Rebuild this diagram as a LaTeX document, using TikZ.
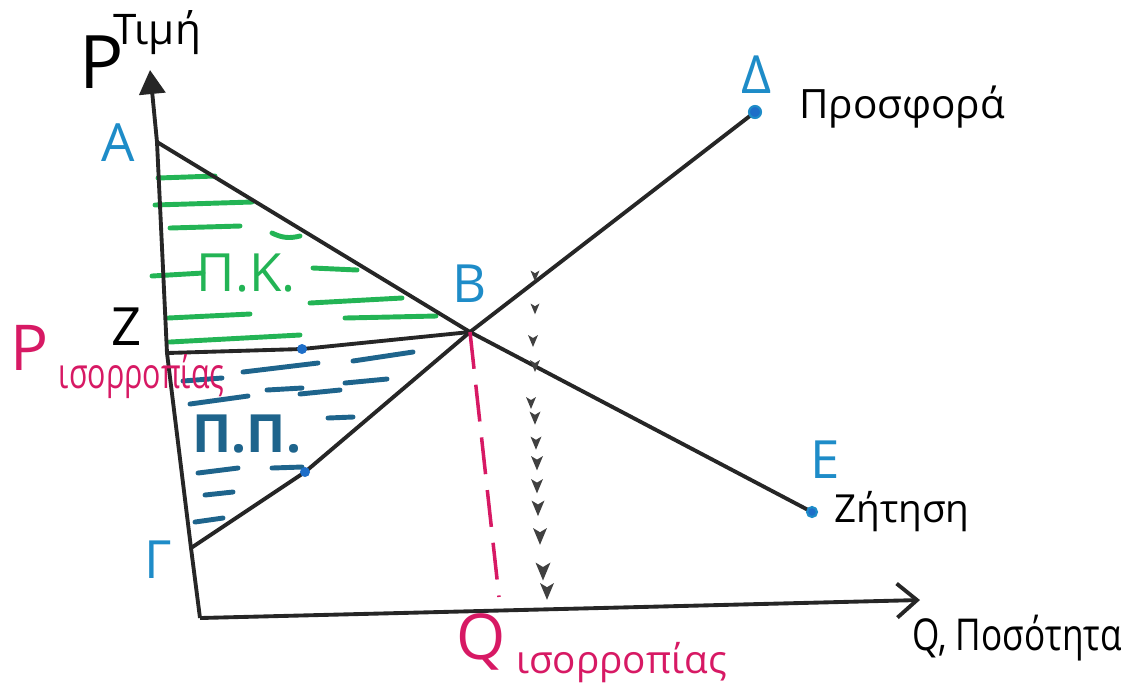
\documentclass[tikz,border=0pt]{standalone}
\usepackage{fontspec}
\usepackage{graphicx}
\setmainfont{Open Sans}
\usetikzlibrary{arrows.meta,positioning,calc}

\definecolor{labelblue}{RGB}{30,140,200}
\definecolor{eqpink}{RGB}{215,25,100}
\definecolor{csgreen}{RGB}{35,180,85}
\definecolor{psteal}{RGB}{30,100,140}
\definecolor{dotblue}{RGB}{30,110,200}

\begin{document}
\begin{tikzpicture}[
  x=0.1mm, y=-0.1mm,
  curveline/.style={line width=1.1pt, black!85},
  axisline/.style={line width=1.1pt, black!85},
  ptlabel/.style={text=labelblue, font=\fontsize{15}{15}\selectfont, inner sep=1pt},
  curvelabel/.style={font=\fontsize{11.5}{11.5}\selectfont, inner sep=1pt},
  eqlabel/.style={text=eqpink, inner sep=1pt},
  areak/.style={text=csgreen, font=\fontsize{15}{15}\selectfont, inner sep=1pt},
  areap/.style={text=psteal, font=\bfseries\fontsize{15}{15}\selectfont, inner sep=1pt},
  hatchk/.style={line width=1.4pt, csgreen, line cap=round},
  hatchp/.style={line width=1.4pt, psteal, line cap=round},
  eqline/.style={eqpink, line width=1pt, dash pattern=on 3.7mm off 1.6mm},
  enddot/.style={fill=dotblue, draw=labelblue, line width=0.6pt}
]
  \useasboundingbox (0,0) rectangle (1125,691);

  % points of the diagram
  \coordinate (O) at (200,618);
  \coordinate (ptip) at (150,70);
  \coordinate (qtip) at (920,600);
  \coordinate (A) at (157,142);
  \coordinate (Z) at (167,353);
  \coordinate (G) at (191,548);
  \coordinate (B) at (470,332);
  \coordinate (D) at (755,112);
  \coordinate (E) at (812,512);
  \coordinate (S1) at (305,472);
  \coordinate (Zmid) at (302,349);
  \coordinate (qeq) at (499,597);

  % areas
  \draw[hatchk] (158,178) -- (215,176);
  \draw[hatchk] (155,205) -- (252,202);
  \draw[hatchk] (170,228) -- (240,226);
  \draw[hatchk] (272,233) to[bend right=20] (300,236);
  \draw[hatchk] (152,276) -- (203,273);
  \draw[hatchk] (313,268) -- (357,270);
  \draw[hatchk] (310,303) -- (402,298);
  \draw[hatchk] (168,318) -- (250,314);
  \draw[hatchk] (345,318) -- (436,316);
  \draw[hatchk] (170,342) -- (300,335);

  \draw[hatchp] (353,361) -- (413,352);
  \draw[hatchp] (243,372) -- (318,363);
  \draw[hatchp] (183,381) -- (222,378);
  \draw[hatchp] (345,383) -- (387,379);
  \draw[hatchp] (267,390) -- (302,388);
  \draw[hatchp] (300,394) -- (340,390);
  \draw[hatchp] (190,404) -- (248,396);
  \draw[hatchp] (328,418) -- (353,417);
  \draw[hatchp] (198,473) -- (238,468);
  \draw[hatchp] (272,468) -- (302,467);
  \draw[hatchp] (205,495) -- (233,492);
  \draw[hatchp] (195,522) -- (223,518);

  % axes
  \draw[axisline, -{Triangle[length=2.4mm, width=2.6mm]}] (O) -- (G) -- (Z) -- (A) -- (ptip);
  \draw[axisline, -{Straight Barb[length=2mm, width=3.4mm]}] (O) -- (qtip);

  % curves
  \draw[curveline] (A) -- (B) -- (E);
  \draw[curveline] (G) -- (S1) -- (B) -- (D);
  \draw[curveline] (Z) -- (Zmid) -- (B);
  \draw[eqline] (B) -- (qeq);

  % dotted marks
  \foreach \x/\y/\s in {535/275/0.9, 535/308/0.9, 533/340/1.0, 535/365/1.0,
      531/402/1.0, 535/417/1.1, 536/442/1.1, 537/462/1.2, 537/485/1.2,
      538/507/1.3, 540/535/1.4, 543/570/1.5, 547/590/1.4}
    \fill[black!75] (\x,\y) ++(-5*\s,-5*\s) -- ++(5*\s,3*\s) -- ++(5*\s,-3*\s) -- ++(-5*\s,12*\s) -- cycle;

  % dots
  \fill[dotblue] (S1) circle[radius=5];
  \fill[dotblue] (Zmid) circle[radius=5];
  \filldraw[enddot] (D) circle[radius=6];
  \filldraw[enddot] (E) circle[radius=5];

  % labels
  \node[font=\fontsize{21}{21}\selectfont, inner sep=0pt] (lblP) at (102,62) {P};
  \node[font=\fontsize{12}{12}\selectfont, inner sep=0pt] (lblTimi) at (157,33) {Τιμή};
  \node[ptlabel] (lblA) at (118,143) {A};
  \node[font=\fontsize{15}{15}\selectfont, inner sep=1pt] (lblZ) at (127,327) {Z};
  \node[ptlabel] (lblG) at (158,560) {Γ};
  \node[ptlabel] (lblB) at (470,284) {B};
  \node[ptlabel] (lblD) at (757,75) {Δ};
  \node[ptlabel] (lblE) at (825,460) {E};
  \node[curvelabel, anchor=west] (lblSupply) at (795,107) {Προσφορά};
  \node[curvelabel, anchor=west, font=\fontsize{11}{11}\selectfont] (lblDemand) at (830,512) {Ζήτηση};
  \node[areak] (lblPK) at (246,273) {Π.Κ.};
  \node[areap] (lblPP) at (247,434) {Π.Π.};
  \node[eqlabel, anchor=west] (lblPeq) at (6,362)
    {\fontsize{18}{18}\selectfont P\,\raisebox{-5pt}{\scalebox{0.72}[1]{\fontsize{12}{12}\selectfont ισορροπίας}}};
  \node[eqlabel, anchor=west] (lblQeq) at (452,648)
    {\fontsize{18}{18}\selectfont Q\,\raisebox{-4pt}{\fontsize{11}{11}\selectfont ισορροπίας}};
  \node[anchor=west, inner sep=1pt] (lblQ) at (908,638)
    {\scalebox{0.8}[1]{\fontsize{12.5}{12.5}\selectfont Q, Ποσότητα}};
\end{tikzpicture}
\end{document}
